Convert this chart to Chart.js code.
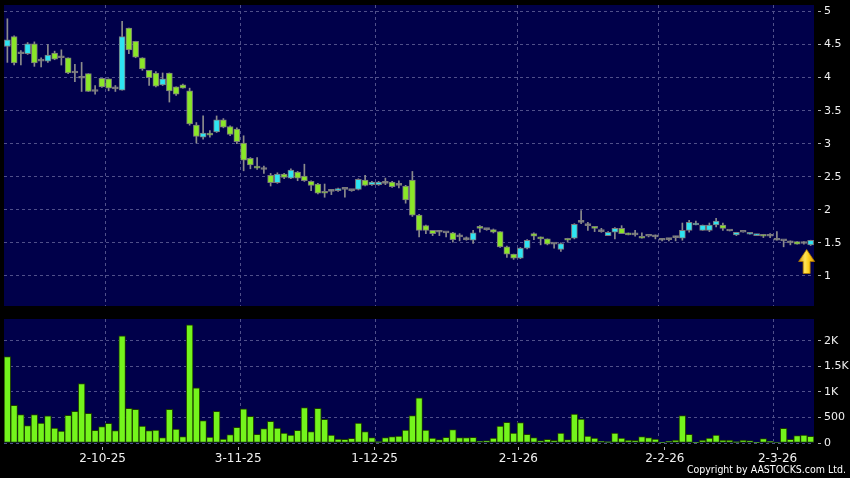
<!DOCTYPE html>
<html>
<head>
<meta charset="utf-8">
<script src="https://cdn.jsdelivr.net/npm/chart.js@4.4.1/dist/chart.umd.min.js"></script>
<style>
  html, body { margin: 0; padding: 0; background: #000; }
  body { width: 850px; height: 478px; position: relative; overflow: hidden; }
  canvas { position: absolute; left: 0; }
  #price { top: 0; }
  #vol { top: 310px; }
  #copy { position: absolute; right: 4px; top: 463px; color: #fff; font: 10.5px "DejaVu Sans Condensed", "DejaVu Sans", sans-serif; white-space: nowrap; }
</style>
</head>
<body>
<canvas id="price" width="850" height="306"></canvas>
<canvas id="vol" width="850" height="168"></canvas>
<div id="copy">Copyright by AASTOCKS.com Ltd.</div>
<script>
// daily bars, oldest first
const opens = [4.47,4.62,4.36,4.36,4.51,4.25,4.25,4.37,4.30,4.30,4.07,3.99,4.06,3.79,3.99,3.98,3.83,3.81,4.75,4.55,
  4.30,4.11,4.07,3.89,4.07,3.86,3.89,3.80,3.28,3.10,3.16,3.18,3.36,3.26,3.22,3.01,2.78,2.66,2.61,2.52,
  2.41,2.54,2.48,2.57,2.51,2.43,2.39,2.28,2.28,2.29,2.31,2.29,2.31,2.45,2.38,2.38,2.40,2.42,2.37,2.36,
  2.45,1.92,1.76,1.69,1.66,1.65,1.65,1.59,1.55,1.54,1.75,1.70,1.70,1.67,1.44,1.33,1.27,1.42,1.64,1.58,
  1.56,1.48,1.40,1.56,1.57,1.81,1.76,1.75,1.67,1.61,1.66,1.72,1.65,1.62,1.60,1.60,1.59,1.54,1.55,1.58,
  1.57,1.69,1.77,1.69,1.69,1.77,1.77,1.68,1.62,1.66,1.63,1.61,1.63,1.60,1.54,1.53,1.50,1.52,1.49,1.47];
const highs = [4.89,4.63,4.41,4.53,4.54,4.30,4.50,4.40,4.42,4.30,4.20,4.23,4.06,3.88,3.99,3.98,3.88,4.85,4.75,4.55,
  4.30,4.11,4.09,4.07,4.07,3.86,3.90,3.84,3.32,3.42,3.20,3.42,3.38,3.27,3.24,3.12,2.79,2.79,2.66,2.55,
  2.56,2.55,2.62,2.58,2.69,2.44,2.40,2.39,2.31,2.33,2.31,2.30,2.47,2.52,2.43,2.43,2.48,2.43,2.44,2.37,
  2.58,1.93,1.77,1.69,1.69,1.66,1.66,1.64,1.59,1.69,1.76,1.71,1.71,1.67,1.45,1.33,1.43,1.55,1.65,1.59,
  1.56,1.49,1.50,1.57,1.79,1.99,1.81,1.75,1.72,1.67,1.73,1.76,1.65,1.69,1.65,1.60,1.62,1.57,1.57,1.60,
  1.80,1.84,1.83,1.77,1.80,1.87,1.80,1.69,1.66,1.66,1.66,1.63,1.63,1.64,1.67,1.54,1.53,1.52,1.52,1.54];
const lows = [4.23,4.19,4.19,4.35,4.17,4.16,4.23,4.27,4.19,4.06,3.94,3.79,3.79,3.75,3.85,3.80,3.79,3.81,4.36,4.30,
  4.11,3.88,3.86,3.88,3.63,3.73,3.84,3.28,3.01,3.07,3.10,3.17,3.24,3.12,3.00,2.59,2.62,2.61,2.55,2.36,
  2.40,2.47,2.47,2.44,2.43,2.29,2.24,2.19,2.23,2.28,2.19,2.28,2.30,2.36,2.37,2.37,2.38,2.34,2.33,2.10,
  1.90,1.59,1.64,1.61,1.61,1.59,1.51,1.53,1.54,1.49,1.66,1.69,1.65,1.43,1.28,1.25,1.26,1.41,1.55,1.47,
  1.47,1.42,1.37,1.51,1.56,1.79,1.69,1.67,1.66,1.61,1.56,1.64,1.62,1.60,1.57,1.59,1.56,1.53,1.53,1.53,
  1.54,1.66,1.77,1.69,1.67,1.74,1.69,1.68,1.61,1.66,1.63,1.61,1.58,1.58,1.54,1.44,1.47,1.48,1.48,1.46];
const closes = [4.57,4.22,4.36,4.51,4.22,4.25,4.34,4.28,4.30,4.07,4.07,3.99,3.79,3.79,3.86,3.84,3.83,4.62,4.42,4.31,
  4.13,4.00,3.87,3.98,3.80,3.75,3.84,3.30,3.11,3.16,3.13,3.36,3.25,3.14,3.03,2.75,2.68,2.63,2.61,2.41,
  2.54,2.49,2.60,2.48,2.44,2.37,2.25,2.25,2.28,2.32,2.31,2.29,2.46,2.37,2.42,2.42,2.40,2.35,2.37,2.15,
  1.92,1.69,1.69,1.64,1.66,1.65,1.55,1.59,1.55,1.65,1.72,1.70,1.66,1.44,1.33,1.27,1.42,1.54,1.60,1.56,
  1.48,1.48,1.49,1.54,1.78,1.81,1.76,1.72,1.67,1.66,1.72,1.64,1.62,1.62,1.57,1.60,1.59,1.54,1.55,1.58,
  1.69,1.81,1.80,1.77,1.77,1.83,1.72,1.68,1.66,1.66,1.66,1.63,1.60,1.60,1.54,1.53,1.50,1.48,1.49,1.54];
const volumes = [1692,739,555,340,555,392,529,294,235,542,621,1163,581,248,320,386,241,2097,680,660,
  333,241,254,104,660,274,124,2313,1078,438,117,621,78,163,307,666,522,170,281,425,
  294,196,157,248,692,222,680,464,157,78,72,92,392,222,105,26,105,124,137,254,
  536,882,254,98,65,111,261,105,105,111,39,46,98,333,405,196,399,170,105,46,
  72,52,196,65,568,470,137,98,39,26,196,98,59,52,124,105,78,13,39,59,
  536,170,7,59,98,157,59,59,26,59,46,13,85,33,20,287,72,144,157,131];

const dateLabels = ['2-10-25', '3-11-25', '1-12-25', '2-1-26', '2-2-26', '2-3-26'];
const labelAt = [14.1, 34.2, 54.4, 75.7, 97.4, 114.1];
const gridAt = [14.5, 34.5, 54.5, 75.5, 96.5, 113.5];
const priceTicks = [1, 1.5, 2, 2.5, 3, 3.5, 4, 4.5, 5];
const volTicks = [0, 500, 1000, 1500, 2000];
const volTickLabels = ['0', '500', '1K', '1.5K', '2K'];

const NAVY = '#00004a';
const GRID = '#50508a';
const CYAN = '#2ee4f2';
const GREEN = '#8ae628';
const GRAY = '#8c8c8c';

Chart.defaults.font.family = '"DejaVu Sans", sans-serif';
Chart.defaults.animation = false;

const panelBg = {
    id: 'panelBg',
    beforeDraw(chart) {
        const { ctx, chartArea: a } = chart;
        ctx.save();
        ctx.fillStyle = NAVY;
        ctx.fillRect(a.left, a.top, a.right - a.left, a.bottom - a.top);
        ctx.restore();
    }
};

// yellow arrow under the latest bar
const lastArrow = {
    id: 'lastArrow',
    afterDatasetsDraw(chart) {
        const { ctx, scales: { x, y } } = chart;
        const last = closes.length - 1;
        const cx = x.getPixelForValue(last) - 4;
        const top = y.getPixelForValue(lows[last]) + 4;
        const g = ctx.createLinearGradient(cx - 8, 0, cx + 8, 0);
        g.addColorStop(0, '#d89400');
        g.addColorStop(0.4, '#ffe45a');
        g.addColorStop(0.6, '#ffd21e');
        g.addColorStop(1, '#e09a00');
        ctx.save();
        ctx.beginPath();
        ctx.moveTo(cx, top);
        ctx.lineTo(cx + 8, top + 12);
        ctx.lineTo(cx + 3.5, top + 12);
        ctx.lineTo(cx + 3.5, top + 24);
        ctx.lineTo(cx - 3.5, top + 24);
        ctx.lineTo(cx - 3.5, top + 12);
        ctx.lineTo(cx - 8, top + 12);
        ctx.closePath();
        ctx.fillStyle = g;
        ctx.fill();
        ctx.strokeStyle = '#b07800';
        ctx.lineWidth = 0.8;
        ctx.stroke();
        ctx.restore();
    }
};

const candleColor = closes.map((c, i) => c > opens[i] ? CYAN : (c < opens[i] ? GREEN : GRAY));

function noPad(s) {
    s.paddingTop = 0;
    s.paddingBottom = 0;
    s.paddingLeft = 0;
    s.paddingRight = 0;
}

function gridAxis() {
    return {
        type: 'linear', min: -0.5, max: 119.5, offset: false,
        afterBuildTicks: s => { s.ticks = gridAt.map(v => ({ value: v })); },
        afterFit: s => { s.height = 0; noPad(s); },
        ticks: { display: false, autoSkip: false },
        grid: { color: GRID, drawTicks: false, offset: false },
        border: { display: false, dash: [3, 3] }
    };
}

new Chart(document.getElementById('price'), {
    type: 'bar',
    data: {
        datasets: [
            {
                label: 'body',
                order: 0,
                grouped: false,
                data: opens.map((o, i) => ({ x: i, y: [o, closes[i]] })),
                backgroundColor: candleColor,
                borderColor: '#7a7a7a',
                borderWidth: 1,
                borderSkipped: false,
                barThickness: 6,
                minBarLength: 2
            },
            {
                label: 'wick',
                order: 1,
                grouped: false,
                data: lows.map((l, i) => ({ x: i, y: [l, highs[i]] })),
                backgroundColor: GRAY,
                barThickness: 1
            }
        ]
    },
    options: {
        responsive: false,
        layout: { padding: { top: 5, left: 4, right: 0, bottom: 0 } },
        plugins: { legend: { display: false }, tooltip: { enabled: false } },
        scales: {
            x: gridAxis(),
            y: {
                position: 'right', min: 0.545, max: 5.098,
                afterBuildTicks: s => { s.ticks = priceTicks.map(v => ({ value: v })); },
                afterFit: s => { s.width = 36; noPad(s); },
                ticks: { color: '#f0f0f0', font: { size: 11 }, padding: 3, autoSkip: false, callback: v => String(v) },
                grid: { color: GRID, tickColor: '#b0b0b0', tickBorderDash: [0, 4, 3, 20], tickLength: 7 },
                border: { display: false, dash: [3, 3] }
            }
        }
    },
    plugins: [panelBg, lastArrow]
});

new Chart(document.getElementById('vol'), {
    type: 'bar',
    data: {
        datasets: [{
            label: 'volume',
            data: volumes.map((v, i) => ({ x: i, y: v })),
            backgroundColor: '#74f41c',
            borderColor: '#1c3a00',
            borderWidth: 1,
            borderSkipped: false,
            barPercentage: 1,
            categoryPercentage: 1
        }]
    },
    options: {
        responsive: false,
        layout: { padding: { top: 9, left: 4, right: 0, bottom: 0 } },
        plugins: { legend: { display: false }, tooltip: { enabled: false } },
        scales: {
            x: gridAxis(),
            xl: {
                type: 'linear', position: 'bottom', min: -0.5, max: 119.5, offset: false,
                afterBuildTicks: s => { s.ticks = labelAt.map(v => ({ value: v })); },
                afterFit: s => { s.height = 35; noPad(s); },
                ticks: { color: '#f0f0f0', font: { size: 12 }, padding: 2, autoSkip: false, maxRotation: 0,
                    callback: (v, i) => dateLabels[i] },
                grid: { drawOnChartArea: false, offset: false, tickColor: '#b0b0b0', tickBorderDash: [0, 4, 3, 20], tickLength: 7 },
                border: { display: false }
            },
            y: {
                position: 'right', min: 0, max: 2425,
                afterBuildTicks: s => { s.ticks = volTicks.map(v => ({ value: v })); },
                afterFit: s => { s.width = 36; noPad(s); },
                ticks: { color: '#f0f0f0', font: { size: 11 }, padding: 3, autoSkip: false,
                    callback: (v, i) => volTickLabels[i] },
                grid: { color: GRID, tickColor: '#b0b0b0', tickBorderDash: [0, 4, 3, 20], tickLength: 7 },
                border: { display: false, dash: [3, 3] }
            }
        }
    },
    plugins: [panelBg]
});
</script>
</body>
</html>
